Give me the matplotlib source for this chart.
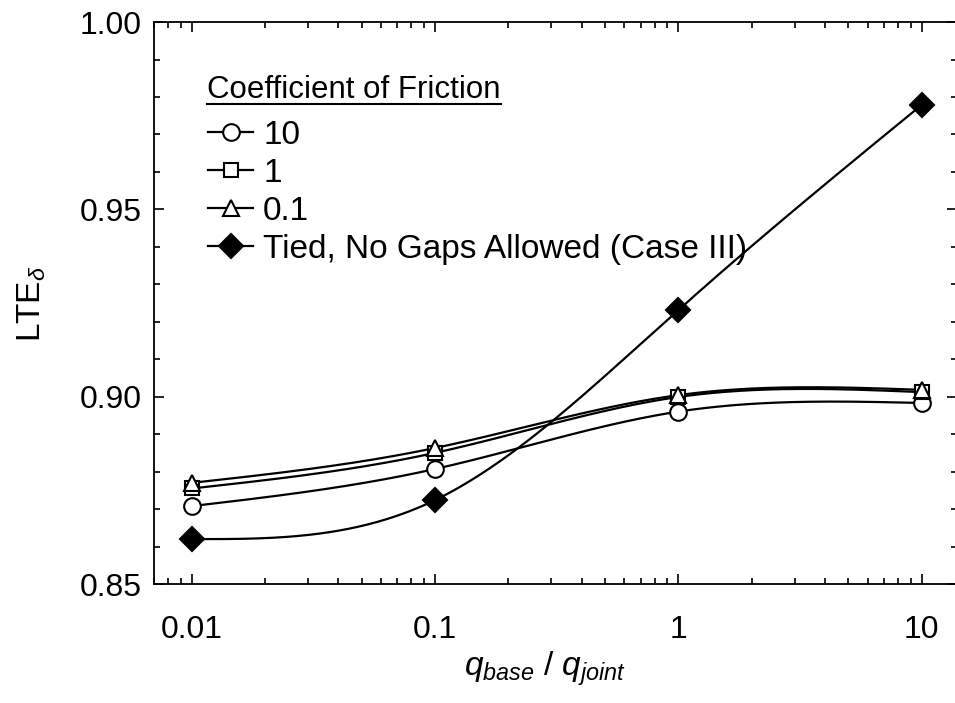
import numpy as np
import matplotlib.pyplot as plt
from matplotlib.ticker import LogLocator, MultipleLocator, FixedLocator, FixedFormatter
from matplotlib.lines import Line2D

plt.rcParams['font.family'] = ['Liberation Sans', 'DejaVu Sans']
plt.rcParams['mathtext.fontset'] = 'custom'
plt.rcParams['mathtext.rm'] = 'Liberation Sans'
plt.rcParams['mathtext.it'] = 'Liberation Sans:italic'

# q_base / q_joint
ratio = [0.01, 0.1, 1, 10]

# LTE values
lte_cof_10 = [0.8709, 0.8808, 0.8961, 0.8984]
lte_cof_1 = [0.8756, 0.8851, 0.9000, 0.9013]
lte_cof_01 = [0.8771, 0.8864, 0.9005, 0.9019]
lte_tied = [0.8621, 0.8725, 0.9232, 0.9779]

labels = ['10', '1', '0.1', 'Tied, No Gaps Allowed (Case III)']


def natural_spline(x, y, xs):
    # plain natural cubic spline, used only to draw smooth curves through the points
    x = np.asarray(x, float)
    y = np.asarray(y, float)
    n = len(x)
    h = np.diff(x)
    A = np.zeros((n, n))
    b = np.zeros(n)
    A[0, 0] = A[-1, -1] = 1
    for i in range(1, n - 1):
        A[i, i - 1] = h[i - 1]
        A[i, i] = 2 * (h[i - 1] + h[i])
        A[i, i + 1] = h[i]
        b[i] = 3 * ((y[i + 1] - y[i]) / h[i] - (y[i] - y[i - 1]) / h[i - 1])
    c = np.linalg.solve(A, b)
    out = np.empty_like(xs)
    for k, xv in enumerate(xs):
        i = min(max(np.searchsorted(x, xv) - 1, 0), n - 2)
        dx = xv - x[i]
        bi = (y[i + 1] - y[i]) / h[i] - h[i] * (2 * c[i] + c[i + 1]) / 3
        di = (c[i + 1] - c[i]) / (3 * h[i])
        out[k] = y[i] + bi * dx + c[i] * dx ** 2 + di * dx ** 3
    return out


W, H = 955, 703
fig = plt.figure(figsize=(W / 100, H / 100), dpi=100)
ax = fig.add_axes([0.1613, 0.1686, 0.8411, 0.8001])

series = [
    (lte_cof_10, dict(marker='o', markersize=12, mfc='white')),
    (lte_cof_1, dict(marker='s', markersize=10, mfc='white')),
    (lte_cof_01, dict(marker='^', markersize=12, mfc='white')),
    (lte_tied, dict(marker='D', markersize=12, mfc='black')),
]

lx = np.log10(ratio)
xs = np.linspace(lx[0], lx[-1], 300)
handles = []
for vals, style in series:
    ys = natural_spline(lx, vals, xs)
    ax.plot(10 ** xs, ys, color='black', linewidth=1.6, zorder=2)
    ax.plot(ratio, vals, linestyle='none', mec='black', mew=1.5, zorder=3, **style)
    handles.append(Line2D([], [], color='black', linewidth=1.6, mec='black', mew=1.5, **style))

ax.set_xscale('log')
ax.set_xlim(0.007, 14)
ax.set_ylim(0.85, 1.00)

ax.xaxis.set_major_locator(FixedLocator(ratio))
ax.xaxis.set_major_formatter(FixedFormatter(['0.01', '0.1', '1', '10']))
ax.xaxis.set_minor_locator(LogLocator(base=10, subs=np.arange(2, 10), numticks=20))
ax.yaxis.set_major_locator(MultipleLocator(0.05))
ax.yaxis.set_minor_locator(MultipleLocator(0.01))
ax.yaxis.set_major_formatter(plt.FuncFormatter(lambda v, p: f'{v:.2f}'))

ax.tick_params(which='both', direction='in', top=True, right=True, labelsize=23, width=1.2)
ax.tick_params(which='major', length=7)
ax.tick_params(which='minor', length=4, labelbottom=False)
ax.tick_params(axis='x', which='major', pad=22)
ax.tick_params(axis='y', which='major', pad=9)
for sp in ax.spines.values():
    sp.set_linewidth(1.3)

ax.set_xlabel(r'$q_{base}$ / $q_{joint}$', fontsize=24)
ax.xaxis.set_label_coords(0.487, -0.116)
ax.set_ylabel(r'LTE$_\delta$', fontsize=24)
ax.yaxis.set_label_coords(-0.132, 0.5)

# legend entries, title drawn separately so it can be underlined
leg = ax.legend(handles, labels, loc='upper left',
                bbox_to_anchor=(208 / W, 1 - 120 / H), bbox_transform=fig.transFigure,
                frameon=False, fontsize=24, handlelength=1.35, handletextpad=0.3,
                labelspacing=0.21, borderpad=0, borderaxespad=0)

title = fig.text(207 / W, 1 - 90 / H, 'Coefficient of Friction', fontsize=22.5,
                 ha='left', va='center')
fig.canvas.draw()
bb = title.get_window_extent().transformed(fig.transFigure.inverted())
fig.add_artist(Line2D([bb.x0, bb.x1], [1 - 104 / H, 1 - 104 / H],
                      color='black', linewidth=1.5, transform=fig.transFigure))

fig.savefig('out.png', dpi=100)
